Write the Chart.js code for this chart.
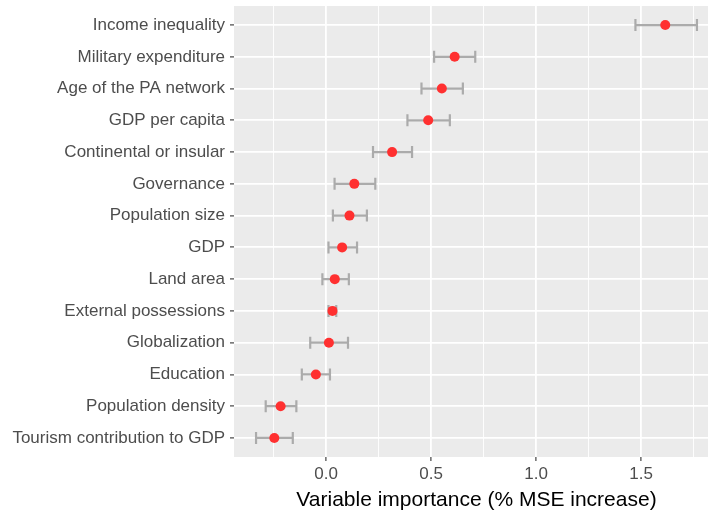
<!DOCTYPE html>
<html>
<head>
<meta charset="utf-8">
<script src="https://cdn.jsdelivr.net/npm/chart.js@4/dist/chart.umd.min.js"></script>
<style>
  html, body { margin: 0; padding: 0; background: #ffffff; overflow: hidden; }
  #wrap { width: 708px; height: 518px; overflow: hidden; }
</style>
</head>
<body>
<div id="wrap"><canvas id="chart" width="724" height="518"></canvas></div>
<script>
// Predictors, top to bottom
const categories = [
  "Income inequality",
  "Military expenditure",
  "Age of the PA network",
  "GDP per capita",
  "Continental or insular",
  "Governance",
  "Population size",
  "GDP",
  "Land area",
  "External possessions",
  "Globalization",
  "Education",
  "Population density",
  "Tourism contribution to GDP"
];

// Mean % MSE increase and its interval
const importance = [1.615, 0.612, 0.551, 0.486, 0.314, 0.134, 0.111, 0.076, 0.041, 0.030, 0.013, -0.049, -0.217, -0.247];
const lower      = [1.473, 0.514, 0.454, 0.387, 0.223, 0.040, 0.032, 0.011, -0.018, 0.011, -0.076, -0.116, -0.288, -0.334];
const upper      = [1.766, 0.710, 0.651, 0.589, 0.409, 0.234, 0.194, 0.147, 0.108, 0.048, 0.104, 0.018, -0.142, -0.159];

// X axis breaks
const majorTicks = [0, 0.5, 1, 1.5];
const minorTicks = [-0.25, 0.25, 0.75, 1.25, 1.75];
const xTitle = "Variable importance (% MSE increase)";

const FONT = "'Liberation Sans', Arial, Helvetica, sans-serif";

const points = importance.map((v, i) => ({ x: v, y: i }));

const isMajor = (v) => majorTicks.some(m => Math.abs(m - v) < 1e-9);

// grey panel behind the grid
const panelBg = {
  id: 'panelBg',
  beforeDraw(chart) {
    const { ctx, chartArea: a } = chart;
    ctx.save();
    ctx.fillStyle = '#ebebeb';
    ctx.fillRect(a.left, a.top, a.right - a.left, a.bottom - a.top);
    ctx.restore();
  }
};

// horizontal error bars with end caps, drawn under the points
const errorBars = {
  id: 'errorBars',
  beforeDatasetsDraw(chart) {
    const { ctx, scales: { x, y } } = chart;
    ctx.save();
    ctx.strokeStyle = '#ababab';
    ctx.lineWidth = 2.2;
    const cap = 6;
    for (let i = 0; i < categories.length; i++) {
      const py = y.getPixelForValue(i);
      const x0 = x.getPixelForValue(lower[i]);
      const x1 = x.getPixelForValue(upper[i]);
      ctx.beginPath();
      ctx.moveTo(x0, py); ctx.lineTo(x1, py);
      ctx.moveTo(x0, py - cap); ctx.lineTo(x0, py + cap);
      ctx.moveTo(x1, py - cap); ctx.lineTo(x1, py + cap);
      ctx.stroke();
    }
    ctx.restore();
  }
};

new Chart(document.getElementById('chart'), {
  type: 'scatter',
  data: {
    datasets: [{
      data: points,
      backgroundColor: '#ff3030',
      borderWidth: 0,
      pointRadius: 5,
      pointHoverRadius: 5
    }]
  },
  options: {
    responsive: false,
    animation: false,
    devicePixelRatio: 1,
    layout: { padding: { top: 6, right: 0, bottom: 0, left: 0 } },
    plugins: { legend: { display: false }, tooltip: { enabled: false } },
    scales: {
      x: {
        type: 'linear',
        min: -0.439,
        max: 1.871,
        afterBuildTicks(axis) {
          axis.ticks = majorTicks.concat(minorTicks).sort((a, b) => a - b).map(v => ({ value: v }));
        },
        afterFit(axis) {
          axis.height = 61;
          axis.paddingLeft = 0;
          axis.paddingRight = 0;
        },
        border: { display: false },
        grid: {
          color: '#ffffff',
          lineWidth: (c) => (c.tick && isMajor(c.tick.value)) ? 1.8 : 0.9,
          tickColor: (c) => (c.tick && isMajor(c.tick.value)) ? '#333333' : 'rgba(0,0,0,0)',
          tickLength: 4,
          tickWidth: 1.1
        },
        ticks: {
          autoSkip: false,
          maxRotation: 0,
          padding: 3,
          color: '#4d4d4d',
          font: { family: FONT, size: 17 },
          callback: (v) => isMajor(v) ? Number(v).toFixed(1) : ''
        },
        title: {
          display: true,
          text: xTitle,
          color: '#000000',
          font: { family: FONT, size: 21 },
          padding: { top: 0, bottom: 5 }
        }
      },
      y: {
        type: 'linear',
        reverse: true,
        min: -0.6,
        max: categories.length - 1 + 0.6,
        afterBuildTicks(axis) {
          axis.ticks = categories.map((_, i) => ({ value: i }));
        },
        afterFit(axis) {
          axis.width = 234;
          axis.paddingTop = 0;
          axis.paddingBottom = 0;
        },
        border: { display: false },
        grid: {
          color: '#ffffff',
          lineWidth: 1.8,
          tickColor: '#333333',
          tickLength: 4,
          tickWidth: 1.1
        },
        ticks: {
          autoSkip: false,
          padding: 5,
          color: '#4d4d4d',
          font: { family: FONT, size: 17 },
          callback: (v) => categories[v]
        }
      }
    }
  },
  plugins: [panelBg, errorBars]
});
</script>
</body>
</html>
